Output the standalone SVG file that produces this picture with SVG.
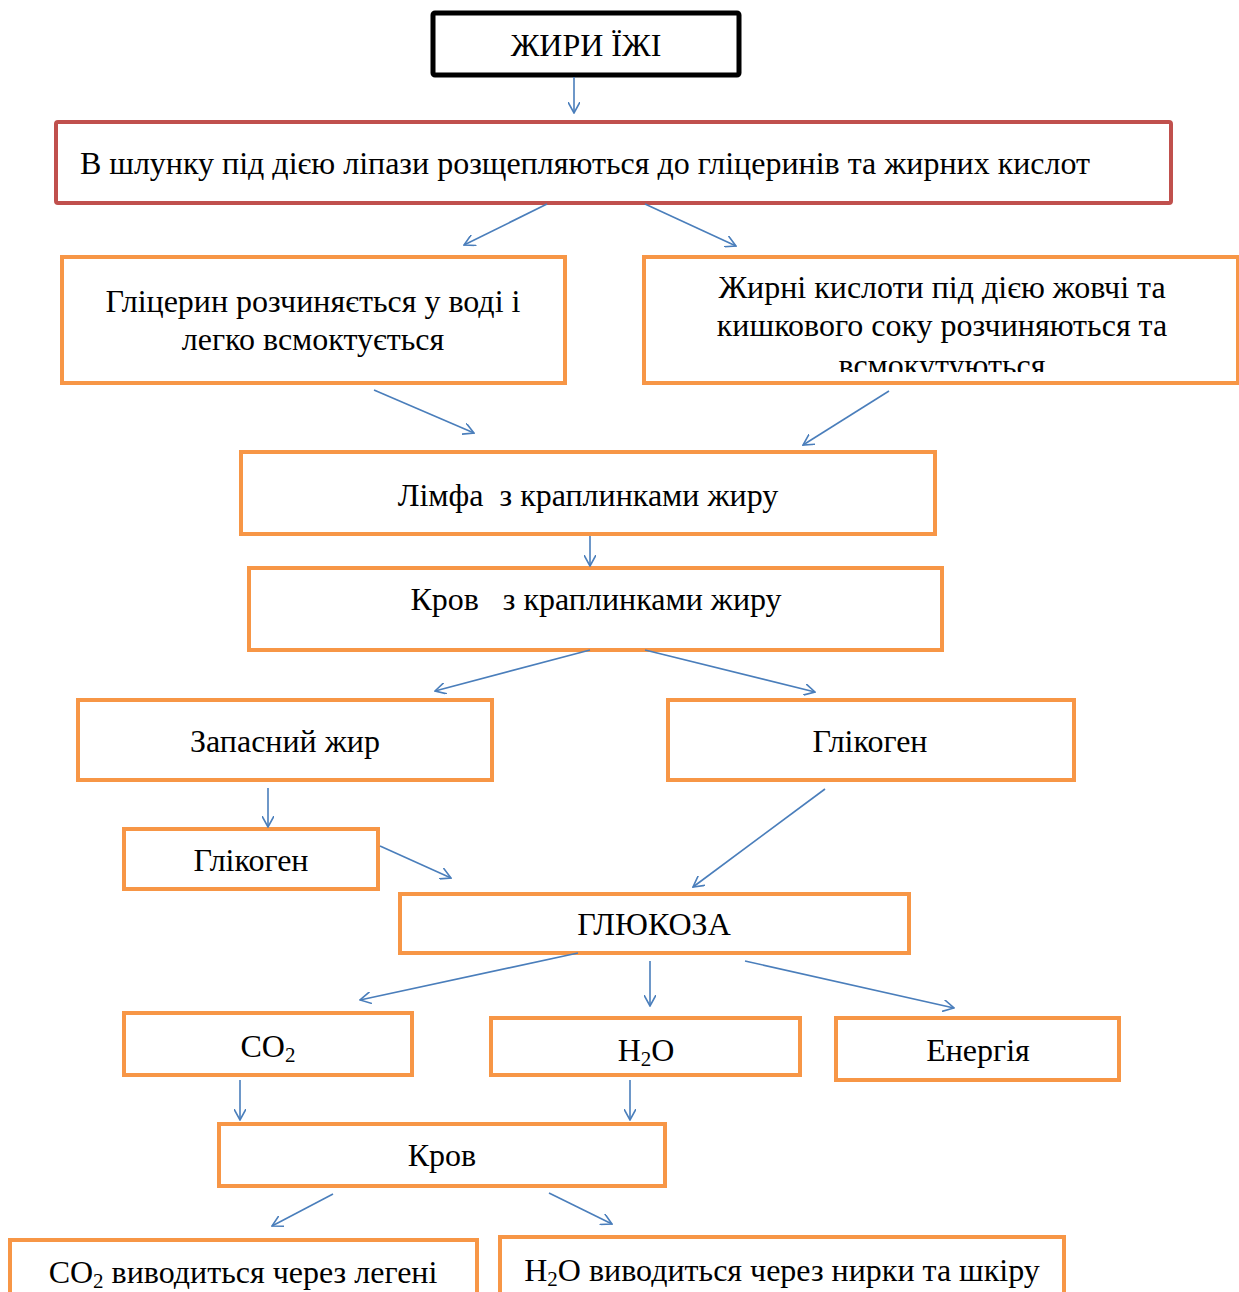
<svg xmlns="http://www.w3.org/2000/svg" width="1239" height="1292" viewBox="0 0 1239 1292">
<style>
.b{fill:#fff;stroke:#F79646;stroke-width:4}
.r{fill:#fff;stroke:#C0504D;stroke-width:4}
.k{fill:#fff;stroke:#000;stroke-width:5}
text{font-family:"Liberation Serif","Times New Roman",serif;font-size:32px;fill:#000;text-anchor:middle}
.c line{stroke:#4A7EBB;stroke-width:1.6;fill:none}
</style>
<defs>
<marker id="a" viewBox="0 0 12 12" refX="11" refY="6" markerWidth="12" markerHeight="12" markerUnits="userSpaceOnUse" orient="auto">
<path d="M0,0 L11,6 L0,12" fill="none" stroke="#4A7EBB" stroke-width="1.6"/>
</marker>
<clipPath id="cl1"><rect x="646" y="259" width="591" height="113"/></clipPath>
</defs>
<rect width="1239" height="1292" fill="#fff"/>
<g id="n1"><rect class="k" x="433" y="13" width="306" height="62" rx="2"/><text x="586" y="56">ЖИРИ ЇЖІ</text></g>
<g id="n2"><rect class="r" x="56" y="122" width="1115" height="81" rx="2"/><text x="585" y="174">В шлунку під дією ліпази розщепляються до гліцеринів та жирних кислот</text></g>
<g id="n3"><rect class="b" x="62" y="257" width="503" height="126"/><text x="313" y="312">Гліцерин розчиняється у воді і</text><text x="313" y="350">легко всмоктується</text></g>
<g id="n4"><rect class="b" x="644" y="257" width="594" height="126"/><g clip-path="url(#cl1)"><text x="942" y="298">Жирні кислоти під дією жовчі та</text><text x="942" y="336">кишкового соку розчиняються та</text><text x="942" y="376">всмокутуються</text></g></g>
<g id="n5"><rect class="b" x="241" y="452" width="694" height="82"/><text x="588" y="506" xml:space="preserve">Лімфа  з краплинками жиру</text></g>
<g id="n6"><rect class="b" x="249" y="568" width="693" height="82"/><text x="596" y="610" xml:space="preserve">Кров   з краплинками жиру</text></g>
<g id="n7"><rect class="b" x="78" y="700" width="414" height="80"/><text x="285" y="752">Запасний жир</text></g>
<g id="n8"><rect class="b" x="668" y="700" width="406" height="80"/><text x="870" y="752">Глікоген</text></g>
<g id="n9"><rect class="b" x="124" y="829" width="254" height="60"/><text x="251" y="871">Глікоген</text></g>
<g id="n10"><rect class="b" x="400" y="894" width="509" height="59"/><text x="654" y="935">ГЛЮКОЗА</text></g>
<g id="n11"><rect class="b" x="124" y="1013" width="288" height="62"/><text x="268" y="1057">CO<tspan font-size="21" dy="5">2</tspan></text></g>
<g id="n12"><rect class="b" x="491" y="1018" width="309" height="57"/><text x="646" y="1061">H<tspan font-size="21" dy="5">2</tspan><tspan dy="-5">O</tspan></text></g>
<g id="n13"><rect class="b" x="836" y="1018" width="283" height="62"/><text x="978" y="1061">Енергія</text></g>
<g id="n14"><rect class="b" x="219" y="1124" width="446" height="62"/><text x="442" y="1166">Кров</text></g>
<g id="n15"><rect class="b" x="10" y="1240" width="467" height="70"/><text x="243" y="1283">CO<tspan font-size="21" dy="5">2</tspan><tspan dy="-5"> виводиться через легені</tspan></text></g>
<g id="n16"><rect class="b" x="500" y="1237" width="564" height="70"/><text x="782" y="1281">H<tspan font-size="21" dy="5">2</tspan><tspan dy="-5">O виводиться через нирки та шкіру</tspan></text></g>
<g class="c" id="connectors">
<line x1="574" y1="77" x2="574" y2="113" marker-end="url(#a)"/>
<line x1="547" y1="204" x2="464" y2="245" marker-end="url(#a)"/>
<line x1="645" y1="204" x2="736" y2="246" marker-end="url(#a)"/>
<line x1="374" y1="390" x2="474" y2="433" marker-end="url(#a)"/>
<line x1="889" y1="391" x2="803" y2="445" marker-end="url(#a)"/>
<line x1="590" y1="536" x2="590" y2="566" marker-end="url(#a)"/>
<line x1="590" y1="650" x2="435" y2="691" marker-end="url(#a)"/>
<line x1="645" y1="650" x2="815" y2="692" marker-end="url(#a)"/>
<line x1="268" y1="788" x2="268" y2="827" marker-end="url(#a)"/>
<line x1="380" y1="846" x2="451" y2="878" marker-end="url(#a)"/>
<line x1="825" y1="789" x2="693" y2="887" marker-end="url(#a)"/>
<line x1="578" y1="953" x2="360" y2="1000" marker-end="url(#a)"/>
<line x1="650" y1="961" x2="650" y2="1006" marker-end="url(#a)"/>
<line x1="745" y1="961" x2="954" y2="1008" marker-end="url(#a)"/>
<line x1="240" y1="1080" x2="240" y2="1120" marker-end="url(#a)"/>
<line x1="630" y1="1080" x2="630" y2="1120" marker-end="url(#a)"/>
<line x1="333" y1="1194" x2="272" y2="1226" marker-end="url(#a)"/>
<line x1="549" y1="1193" x2="612" y2="1224" marker-end="url(#a)"/>
</g>
</svg>
